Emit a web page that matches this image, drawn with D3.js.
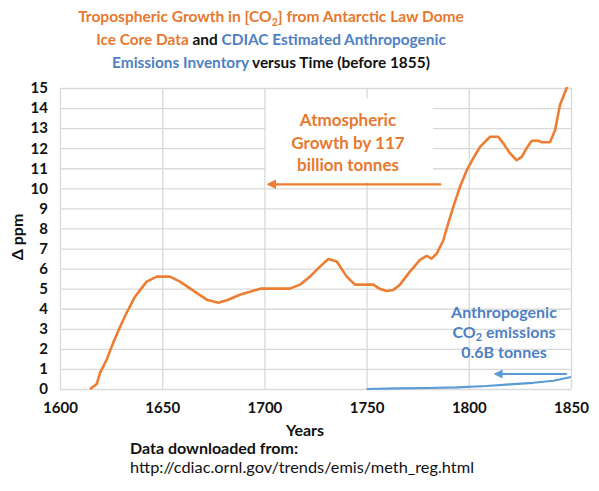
<!DOCTYPE html>
<html>
<head>
<meta charset="utf-8">
<script src="https://cdn.jsdelivr.net/npm/d3@7"></script>
<style>
  body { margin: 0; background: #fff; }
  svg { display: block; font-family: Lato, "Open Sans", sans-serif; }
</style>
</head>
<body>
<script>
// Law Dome ice core: growth in [CO2] since 1615, ppm
const co2Years = [1614.7, 1618, 1619.6, 1622.8, 1626, 1629.4, 1632.6, 1636.7, 1639, 1642.4,
  1647.3, 1653.8, 1658.7, 1665.2, 1671.8, 1677.5, 1682.3, 1688, 1693, 1698,
  1712.5, 1717.4, 1722.3, 1727.2, 1731.3, 1735.4, 1740.3, 1744.3, 1753.3, 1756.6,
  1759.8, 1763, 1766.3, 1771.2, 1776.1, 1779.4, 1781.8, 1784.3, 1787.5, 1789.2,
  1792.4, 1795.7, 1799, 1802.2, 1805.5, 1810.4, 1814.4, 1816.9, 1820.2, 1823.4,
  1825.9, 1828.3, 1830.8, 1834, 1835.7, 1839.7, 1842.2, 1844.6, 1847.9, 1850];
const co2Growth = [0, 0.25, 0.8, 1.45, 2.3, 3.1, 3.8, 4.6, 4.9, 5.35,
  5.6, 5.6, 5.35, 4.9, 4.45, 4.3, 4.45, 4.7, 4.85, 5.0,
  5.0, 5.2, 5.6, 6.1, 6.48, 6.35, 5.6, 5.2, 5.2, 4.98,
  4.88, 4.93, 5.2, 5.85, 6.43, 6.63, 6.5, 6.75, 7.4, 8.0,
  9.08, 10.08, 10.9, 11.5, 12.07, 12.57, 12.57, 12.24, 11.74, 11.4,
  11.57, 12.0, 12.37, 12.37, 12.3, 12.3, 12.9, 14.15, 15.0, 15.6];

// CDIAC anthropogenic emissions, expressed on the same ppm scale
const emisYears = [1750, 1764.7, 1780, 1794, 1808.7, 1820, 1831.6, 1841.4, 1850];
const emisValues = [0, 0.03, 0.05, 0.08, 0.15, 0.23, 0.31, 0.41, 0.6];

const xTicks = [1600, 1650, 1700, 1750, 1800, 1850];
const yTicks = d3.range(0, 16);

const width = 599;
const height = 491;
const orange = "#ED7D31";
const orangeText = "#E8782E";
const blue = "#5B9BD5";
const blueText = "#4E7FC4";
const gridColor = "#d9d9d9";

const x = d3.scaleLinear([1600, 1850], [60, 571]);
const y = d3.scaleLinear([0, 15], [389, 88]);

const svg = d3.select("body").append("svg")
  .attr("width", width)
  .attr("height", height)
  .attr("viewBox", [0, 0, width, height]);

const defs = svg.append("defs");
[["arrowOrange", orange], ["arrowBlue", blue]].forEach(([id, c]) => {
  defs.append("marker")
    .attr("id", id)
    .attr("viewBox", "0 0 10 10")
    .attr("refX", 8).attr("refY", 5)
    .attr("markerWidth", 4.5).attr("markerHeight", 4.5)
    .attr("orient", "auto")
    .append("path")
    .attr("d", "M0,0 L10,5 L0,10 z")
    .attr("fill", c);
});
defs.append("clipPath").attr("id", "plot")
  .append("rect")
  .attr("x", x(1600)).attr("y", y(15) - 1)
  .attr("width", x(1850) - x(1600)).attr("height", y(0) - y(15) + 2);

// Title: each line sized so it spans the same width as the original
const titleLines = [
  [["Tropospheric Growth in [CO", orangeText], ["2", orangeText, true], ["] from Antarctic Law Dome", orangeText]],
  [["Ice Core Data", orangeText], [" and ", "#111"], ["CDIAC Estimated Anthropogenic", blueText]],
  [["Emissions Inventory", blueText], [" versus Time (before 1855)", "#111"]]
];
const titleWidths = [386, 350, 318];
titleLines.forEach((parts, i) => {
  const t = svg.append("text")
    .attr("x", 271)
    .attr("y", 22 + i * 23)
    .attr("text-anchor", "middle")
    .attr("font-weight", "bold")
    .attr("font-size", 16);
  parts.forEach(([s, c, sub]) => {
    const ts = t.append("tspan").attr("fill", c).text(s);
    if (sub) ts.attr("font-size", "0.68em").attr("dy", 4);
    else if (i === 0 && s.startsWith("]")) ts.attr("dy", -4);
  });
  const w = t.node().getComputedTextLength();
  t.attr("font-size", 16 * titleWidths[i] / w);
});

// Grid
svg.append("g")
  .attr("transform", `translate(${x(1600)},0)`)
  .call(d3.axisLeft(y).tickValues(yTicks).tickSize(-(x(1850) - x(1600))).tickFormat(""))
  .call(g => g.select(".domain").remove())
  .call(g => g.selectAll("line").attr("stroke", gridColor).attr("stroke-width", 1.3));

svg.append("g")
  .attr("transform", `translate(0,${y(0)})`)
  .call(d3.axisBottom(x).tickValues(xTicks).tickSize(-(y(0) - y(15))).tickFormat(""))
  .call(g => g.select(".domain").remove())
  .call(g => g.selectAll("line").attr("stroke", gridColor).attr("stroke-width", 1.3));

// Axis labels
svg.append("g")
  .attr("transform", `translate(${x(1600)},0)`)
  .call(d3.axisLeft(y).tickValues(yTicks).tickSize(0).tickPadding(12))
  .call(g => g.select(".domain").remove())
  .call(g => g.selectAll("text")
    .attr("font-family", "Lato, sans-serif")
    .attr("font-size", 15)
    .attr("font-weight", "bold")
    .attr("fill", "#111"));

svg.append("g")
  .attr("transform", `translate(0,${y(0)})`)
  .call(d3.axisBottom(x).tickValues(xTicks).tickSize(0).tickPadding(13).tickFormat(d3.format("d")))
  .call(g => g.select(".domain").remove())
  .call(g => g.selectAll("text")
    .attr("font-family", "Lato, sans-serif")
    .attr("font-size", 15)
    .attr("font-weight", "bold")
    .attr("fill", "#111"));

svg.append("text")
  .attr("transform", `translate(23,237) rotate(-90)`)
  .attr("text-anchor", "middle")
  .attr("font-weight", "bold")
  .attr("font-size", 16)
  .attr("fill", "#111")
  .text("Δ ppm");

svg.append("text")
  .attr("x", 305).attr("y", 436)
  .attr("text-anchor", "middle")
  .attr("font-weight", "bold")
  .attr("font-size", 16)
  .attr("fill", "#111")
  .text("Years");

svg.append("text")
  .attr("x", 130).attr("y", 454)
  .attr("font-weight", "bold")
  .attr("font-size", 16)
  .attr("fill", "#111")
  .text("Data downloaded from:");

svg.append("text")
  .attr("x", 130).attr("y", 473)
  .attr("font-size", 16)
  .attr("textLength", 344)
  .attr("lengthAdjust", "spacingAndGlyphs")
  .attr("fill", "#111")
  .text("http://cdiac.ornl.gov/trends/emis/meth_reg.html");

// Atmospheric annotation box (white, hides grid)
svg.append("rect")
  .attr("x", x(1700) + 1.5).attr("y", 98)
  .attr("width", 433 - x(1700) - 1.5).attr("height", 84)
  .attr("fill", "#fff");

const atmLines = ["Atmospheric", "Growth by 117", "billion tonnes"];
svg.append("g")
  .selectAll("text")
  .data(atmLines)
  .join("text")
  .attr("x", 348)
  .attr("y", (d, i) => 126 + i * 22.5)
  .attr("text-anchor", "middle")
  .attr("font-weight", "bold")
  .attr("font-size", 17)
  .attr("fill", orangeText)
  .text(d => d);

svg.append("line")
  .attr("x1", x(1786.5)).attr("x2", x(1702))
  .attr("y1", y(10.2)).attr("y2", y(10.2))
  .attr("stroke", orange)
  .attr("stroke-width", 2.2)
  .attr("marker-end", "url(#arrowOrange)");

// Anthropogenic annotation
const anLines = [[["Anthropogenic"]], [["CO"], ["2", true], [" emissions"]], [["0.6B tonnes"]]];
anLines.forEach((parts, i) => {
  const t = svg.append("text")
    .attr("x", 504)
    .attr("y", 318 + i * 20)
    .attr("text-anchor", "middle")
    .attr("font-weight", "bold")
    .attr("font-size", 16)
    .attr("fill", blueText);
  parts.forEach(([s, sub], j) => {
    const ts = t.append("tspan").text(s);
    if (sub) ts.attr("font-size", 11).attr("dy", 3);
    else if (j > 0) ts.attr("dy", -3);
  });
});

svg.append("line")
  .attr("x1", x(1848)).attr("x2", x(1813))
  .attr("y1", y(0.75)).attr("y2", y(0.75))
  .attr("stroke", blue)
  .attr("stroke-width", 2)
  .attr("marker-end", "url(#arrowBlue)");

// Series
const co2Line = d3.line()
  .x((d, i) => x(co2Years[i]))
  .y(d => y(d));

svg.append("path")
  .attr("clip-path", "url(#plot)")
  .attr("d", co2Line(co2Growth))
  .attr("fill", "none")
  .attr("stroke", orange)
  .attr("stroke-width", 2.6)
  .attr("stroke-linejoin", "round");

const emisLine = d3.line()
  .x((d, i) => x(emisYears[i]))
  .y(d => y(d));

svg.append("path")
  .attr("d", emisLine(emisValues))
  .attr("fill", "none")
  .attr("stroke", blue)
  .attr("stroke-width", 2.2)
  .attr("stroke-linejoin", "round");
</script>
</body>
</html>
